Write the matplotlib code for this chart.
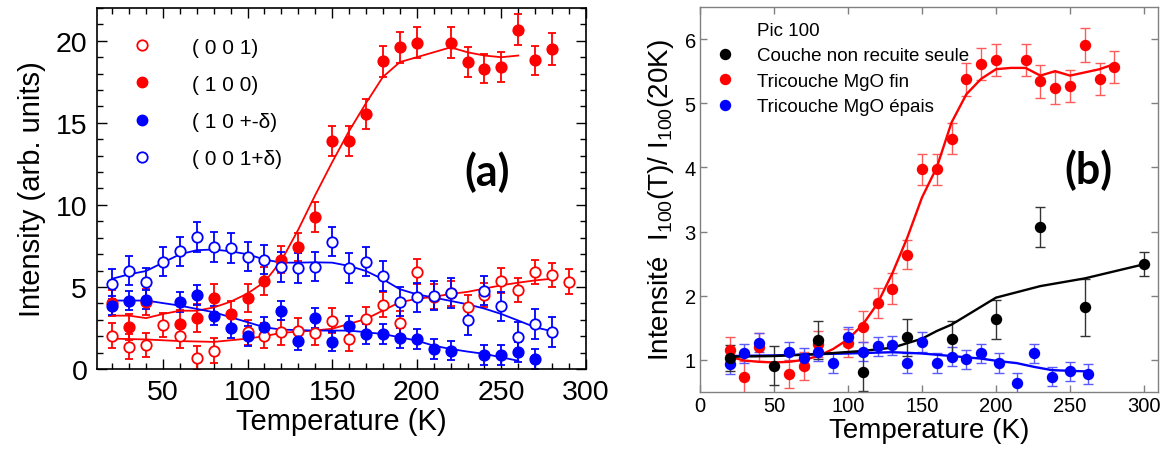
import matplotlib
matplotlib.use("Agg")
import matplotlib.pyplot as plt
from matplotlib.lines import Line2D

plt.rcParams["font.family"] = ["Liberation Sans", "DejaVu Sans"]
plt.rcParams["mathtext.default"] = "regular"

RED = "#ff0000"
BLUE = "#0000ff"

# ---------------- panel (a): intensity vs temperature ----------------
# (1 0 0) filled red
t_100 = [20, 30, 40, 60, 70, 80, 90, 100, 110, 120, 130, 140, 150, 160, 170,
         180, 190, 200, 220, 230, 240, 250, 260, 270, 280]
i_100 = [4.0, 2.55, 4.1, 2.74, 3.1, 4.33, 3.35, 4.33, 5.36, 6.67, 7.42, 9.26,
         13.9, 13.9, 15.55, 18.74, 19.6, 19.88, 19.88, 18.7, 18.3, 18.4, 20.67,
         18.8, 19.5]
e_100 = [0.8, 0.8, 0.8, 0.85, 0.85, 0.85, 0.8, 0.85, 0.85, 0.85, 0.85, 0.9,
         0.9, 0.9, 0.9, 0.95, 0.95, 0.95, 0.95, 0.9, 0.9, 0.9, 0.95, 0.9, 0.95]
fit_t_100 = [20, 30, 40, 50, 60, 70, 80, 90, 100, 110, 120, 130, 140, 150, 160,
             170, 180, 190, 200, 210, 220, 230, 240, 250, 260]
fit_i_100 = [3.25, 3.25, 3.1, 3.35, 3.55, 3.55, 3.75, 4.1, 4.6, 5.3, 6.6, 8.5,
             10.6, 12.6, 14.5, 16.2, 17.8, 18.7, 19.0, 19.3, 19.6, 19.3, 19.1,
             19.0, 19.1]

# (0 0 1) open red
t_001 = [20, 30, 40, 50, 60, 70, 80, 100, 110, 120, 130, 140, 150, 160, 170,
         180, 190, 200, 210, 220, 230, 240, 250, 260, 270, 280, 290]
i_001 = [2.03, 1.36, 1.46, 2.68, 2.0, 0.67, 1.12, 2.24, 2.03, 2.24, 2.34, 2.2,
         2.95, 1.83, 3.05, 3.92, 2.8, 5.93, 4.4, 4.6, 3.77, 4.51, 5.39, 4.82,
         5.9, 5.73, 5.33]
e_001 = [0.75] * len(t_001)
fit_t_001 = [20, 40, 60, 80, 100, 110, 120, 140, 150, 160, 170, 180, 190, 200,
             210, 220, 230, 240, 250, 260, 270, 280]
fit_i_001 = [1.85, 1.8, 1.7, 1.65, 1.85, 2.0, 2.2, 2.35, 2.45, 2.75, 3.05,
             3.56, 4.07, 4.27, 4.4, 4.57, 4.7, 4.9, 5.1, 5.26, 5.4, 5.5]

# (1 0 +-d) filled blue
t_10d = [20, 30, 40, 60, 70, 80, 90, 100, 110, 120, 130, 140, 150, 160, 170,
         180, 190, 200, 210, 220, 240, 250, 260, 270]
i_10d = [3.86, 4.17, 4.23, 4.07, 4.51, 3.25, 2.5, 2.03, 2.54, 3.56, 1.73, 3.09,
         1.67, 2.6, 2.13, 2.13, 1.87, 1.83, 1.22, 1.12, 0.85, 0.85, 1.02, 0.61]
e_10d = [0.6] * len(t_10d)
fit_t_10d = [20, 40, 60, 80, 100, 110, 120, 140, 160, 170, 180, 190, 200, 210,
             220, 230, 240, 250, 260]
fit_i_10d = [4.17, 4.17, 3.86, 3.46, 2.85, 2.54, 2.4, 2.34, 2.34, 2.24, 2.13,
             1.93, 1.73, 1.42, 1.22, 1.06, 0.92, 0.71, 0.5]

# (0 0 1+d) open blue
t_00d = [20, 30, 40, 50, 60, 70, 80, 90, 100, 110, 120, 130, 140, 150, 160,
         170, 180, 190, 200, 210, 220, 230, 240, 250, 260, 270, 280]
i_00d = [5.18, 6.0, 5.28, 6.54, 7.17, 8.03, 7.42, 7.38, 6.85, 6.67, 6.2, 6.14,
         6.24, 7.76, 6.14, 6.54, 5.65, 4.1, 4.37, 4.47, 4.63, 2.99, 4.78, 3.82,
         1.97, 2.74, 2.24]
e_00d = [0.9] * len(t_00d)
fit_t_00d = [20, 30, 40, 50, 60, 70, 80, 90, 100, 110, 120, 130, 140, 150, 160,
             170, 180, 190, 200, 210, 220, 230, 240, 250, 260, 270, 280]
fit_i_00d = [5.5, 5.77, 5.97, 6.48, 6.99, 7.24, 7.28, 7.17, 6.99, 6.67, 6.48,
             6.48, 6.5, 6.48, 6.28, 5.97, 5.47, 4.86, 4.55, 4.35, 4.15, 3.94,
             3.68, 3.35, 2.95, 2.54, 2.3]

# ---------------- panel (b): normalised I100 ----------------
t_black = [20, 50, 80, 110, 140, 170, 200, 230, 260, 300]
v_black = [1.03, 0.91, 1.31, 0.81, 1.35, 1.33, 1.63, 3.07, 1.82, 2.49]
e_black = [0.2, 0.3, 0.29, 0.3, 0.29, 0.28, 0.3, 0.31, 0.44, 0.19]
fit_t_black = [20, 50, 80, 110, 130, 140, 150, 160, 170, 180, 190, 200, 230,
               260, 300]
fit_v_black = [1.05, 1.06, 1.09, 1.14, 1.19, 1.26, 1.33, 1.45, 1.55, 1.69,
               1.83, 1.97, 2.15, 2.27, 2.49]

t_fin = [20, 30, 40, 60, 70, 80, 100, 110, 120, 130, 140, 150, 160, 170, 180,
         190, 200, 220, 230, 240, 250, 260, 270, 280]
v_fin = [1.15, 0.74, 1.2, 0.78, 0.9, 1.25, 1.26, 1.52, 1.89, 2.11, 2.64, 3.97,
         3.97, 4.45, 5.37, 5.61, 5.68, 5.68, 5.34, 5.24, 5.27, 5.91, 5.38, 5.57]
e_fin = [0.2, 0.25, 0.22, 0.22, 0.22, 0.2, 0.22, 0.24, 0.23, 0.24, 0.23, 0.24,
         0.24, 0.24, 0.25, 0.25, 0.25, 0.25, 0.26, 0.25, 0.25, 0.26, 0.25, 0.25]
fit_t_fin = [20, 30, 40, 50, 60, 70, 80, 90, 100, 110, 120, 130, 140, 150, 160,
             170, 180, 190, 200, 210, 220, 230, 240, 250, 260, 270, 280]
fit_v_fin = [1.05, 0.99, 0.97, 0.96, 0.97, 1.0, 1.06, 1.17, 1.32, 1.55, 1.88,
             2.35, 2.9, 3.53, 4.0, 4.7, 5.14, 5.38, 5.53, 5.55, 5.55, 5.43, 5.5,
             5.43, 5.48, 5.53, 5.61]

t_epais = [20, 30, 40, 60, 70, 80, 90, 100, 110, 120, 130, 140, 150, 160, 170,
           180, 190, 202, 214, 226, 238, 250, 262]
v_epais = [0.93, 1.10, 1.27, 1.13, 1.03, 1.13, 0.95, 1.36, 1.13, 1.21, 1.23,
           0.95, 1.28, 0.95, 1.05, 1.01, 1.10, 0.95, 0.64, 1.10, 0.74, 0.82, 0.78]
e_epais = [0.15] * len(t_epais)
fit_t_epais = [20, 50, 80, 100, 130, 150, 170, 190, 202, 214, 226, 238, 250, 262]
fit_v_epais = [1.06, 1.07, 1.09, 1.1, 1.12, 1.1, 1.06, 1.02, 0.98, 0.95, 0.89,
               0.84, 0.83, 0.82]

fig = plt.figure(figsize=(11.67, 4.6), dpi=100)

# ===== panel (a) =====
ax = fig.add_axes([0.0831, 0.1957, 0.4190, 0.7848])
eb = dict(fmt="o", ms=7.5, mew=1.3, elinewidth=1.3, capsize=3, capthick=1.3)
ax.errorbar(t_001, i_001, yerr=e_001, mfc="white", mec=RED, ecolor=RED, **eb)
ax.errorbar(t_100, i_100, yerr=e_100, mfc=RED, mec=RED, ecolor=RED, **eb)
ax.errorbar(t_10d, i_10d, yerr=e_10d, mfc=BLUE, mec=BLUE, ecolor=BLUE, **eb)
ax.errorbar(t_00d, i_00d, yerr=e_00d, mfc="white", mec=BLUE, ecolor=BLUE, **eb)
ax.plot(fit_t_001, fit_i_001, color=RED, lw=1.3)
ax.plot(fit_t_100, fit_i_100, color=RED, lw=1.3)
ax.plot(fit_t_10d, fit_i_10d, color=BLUE, lw=1.3)
ax.plot(fit_t_00d, fit_i_00d, color=BLUE, lw=1.3)

ax.set_xlim(11, 300)
ax.set_ylim(0, 22)
ax.set_xticks([50, 100, 150, 200, 250, 300])
ax.set_xticks(range(20, 300, 10), minor=True)
ax.set_yticks([0, 5, 10, 15, 20])
ax.set_yticks(range(0, 23), minor=True)
ax.tick_params(which="both", direction="in", top=True, right=True,
               width=1.0, labelsize=20.5, pad=7)
ax.tick_params(which="major", length=7)
ax.tick_params(which="minor", length=4)
for s in ax.spines.values():
    s.set_linewidth(1.2)
ax.set_xlabel("Temperature (K)", fontsize=21, labelpad=2)
ax.set_ylabel("Intensity (arb. units)", fontsize=21, labelpad=7)

leg_a = [
    Line2D([], [], ls="none", marker="o", ms=7.5, mfc="white", mec=RED, mew=1.3),
    Line2D([], [], ls="none", marker="o", ms=7.5, mfc=RED, mec=RED),
    Line2D([], [], ls="none", marker="o", ms=7.5, mfc=BLUE, mec=BLUE),
    Line2D([], [], ls="none", marker="o", ms=7.5, mfc="white", mec=BLUE, mew=1.3),
]
ax.legend(leg_a, ["( 0 0 1)", "( 1 0 0)", "( 1 0 +-\u03b4)", "( 0 0 1+\u03b4)"],
          loc="upper left", bbox_to_anchor=(0.07, 0.918), frameon=False,
          fontsize=15, handlelength=1.0, handletextpad=1.9, labelspacing=0.87,
          borderpad=0, borderaxespad=0)
fig.text(487 / 1167, 1 - 172 / 460, "(a)", fontsize=31, fontweight="bold",
         family="Lato", ha="center", va="center")

# ===== panel (b) =====
GREY = "#808080"
bx = fig.add_axes([0.5998, 0.1457, 0.3925, 0.8370])
eb2 = dict(fmt="o", ms=7.2, elinewidth=1.0, capsize=3.5, capthick=1.0)
bx.errorbar(t_fin, v_fin, yerr=e_fin, color=RED, ecolor="#ff5a5a", **eb2)
bx.errorbar(t_epais, v_epais, yerr=e_epais, color=BLUE, ecolor="#5a5aff", **eb2)
bx.errorbar(t_black, v_black, yerr=e_black, color="black", ecolor="#333333", **eb2)
bx.plot(fit_t_fin, fit_v_fin, color=RED, lw=1.7)
bx.plot(fit_t_epais, fit_v_epais, color=BLUE, lw=1.7)
bx.plot(fit_t_black, fit_v_black, color="black", lw=1.7)

bx.set_xlim(0, 309.5)
bx.set_ylim(0.5, 6.5)
bx.set_xticks([0, 50, 100, 150, 200, 250, 300])
bx.set_yticks([1, 2, 3, 4, 5, 6])
bx.tick_params(direction="in", top=True, right=True, length=5, width=1.0,
               color=GREY, labelsize=14.5, pad=3)
for s in bx.spines.values():
    s.set_color(GREY)
    s.set_linewidth(1.0)
bx.set_xlabel("Temperature (K)", fontsize=20, labelpad=1)
bx.set_ylabel("Intensit\u00e9  I$_{100}$(T)/ I$_{100}$(20K)", fontsize=20,
              labelpad=6)

leg_b = [
    Line2D([], [], ls="none"),
    Line2D([], [], ls="none", marker="o", ms=7.2, color="black"),
    Line2D([], [], ls="none", marker="o", ms=7.2, color=RED),
    Line2D([], [], ls="none", marker="o", ms=7.2, color=BLUE),
]
bx.legend(leg_b, ["Pic 100", "Couche non recuite seule", "Tricouche MgO fin",
                  "Tricouche MgO \u00e9pais"],
          loc="upper left", bbox_to_anchor=(0.035, 0.962), frameon=False,
          fontsize=13.5, handlelength=1.0, handletextpad=1.2,
          labelspacing=0.45, borderpad=0, borderaxespad=0)
fig.text(1088 / 1167, 1 - 170 / 460, "(b)", fontsize=31, fontweight="bold",
         family="Lato", ha="center", va="center")

fig.savefig("out.png", dpi=100)
